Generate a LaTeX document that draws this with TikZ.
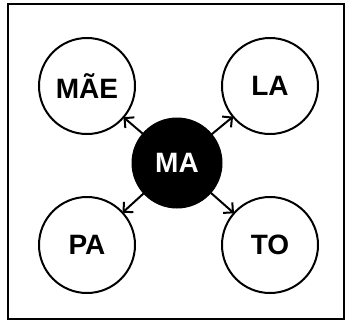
\documentclass[tikz,border=0pt]{standalone}
\usepackage{fontspec}
\setmainfont{Liberation Sans}
\usetikzlibrary{arrows.meta}
\begin{document}
\begin{tikzpicture}[x=1pt,y=-1pt,
  outer/.style={circle,draw=black,line width=2pt,minimum size=96pt,inner sep=0pt,outer sep=0pt,font=\fontsize{28}{28}\selectfont\bfseries},
  center/.style={circle,fill=black,draw=black,line width=1pt,minimum size=90pt,inner sep=0pt,outer sep=0pt,text=white,font=\fontsize{28}{28}\selectfont\bfseries},
  link/.style={line width=2pt,-{Straight Barb[length=7pt,width=14pt,line width=2pt]}}]
\useasboundingbox (0,0) rectangle (348,322);
\draw[line width=2.5pt] (8,4) rectangle (344,319);
\node[outer] (mae) at (87,86) {MÃE};
\node[outer] (la) at (270,86) {LA};
\node[outer] (pa) at (87,245) {PA};
\node[outer] (to) at (270,245) {TO};
\node[center] (ma) at (177,163) {MA};
\draw[link] (ma) -- (mae);
\draw[link] (ma) -- (la);
\draw[link] (ma) -- (pa);
\draw[link] (ma) -- (to);
\end{tikzpicture}
\end{document}
